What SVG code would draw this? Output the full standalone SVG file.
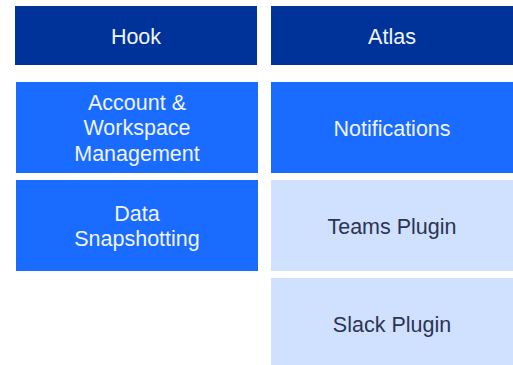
<svg xmlns="http://www.w3.org/2000/svg" width="513" height="365" viewBox="0 0 513 365">
<style>
.dark{fill:#003399}
.mid{fill:#1a6bff}
.light{fill:#d0e0ff}
text{font-family:"Liberation Sans",Arial,sans-serif;font-size:21.5px;text-anchor:middle}
.w{fill:#f0f4ff}
.k{fill:#2b3550}
</style>
<rect width="513" height="365" fill="#ffffff"/>
<g id="hook"><rect class="dark" x="15" y="6" width="242" height="59"/><text class="w" x="136" y="44">Hook</text></g>
<g id="atlas"><rect class="dark" x="271" y="6" width="242" height="59"/><text class="w" x="392" y="44">Atlas</text></g>
<g id="account"><rect class="mid" x="16" y="82" width="242" height="91"/><text class="w" x="137" y="110">Account &amp;</text><text class="w" x="137" y="135">Workspace</text><text class="w" x="137" y="161">Management</text></g>
<g id="notifications"><rect class="mid" x="271" y="82" width="242" height="91"/><text class="w" x="392" y="136">Notifications</text></g>
<g id="data"><rect class="mid" x="16" y="180" width="242" height="91"/><text class="w" x="137" y="221">Data</text><text class="w" x="137" y="246">Snapshotting</text></g>
<g id="teams"><rect class="light" x="271" y="180" width="242" height="91"/><text class="k" x="392" y="234">Teams Plugin</text></g>
<g id="slack"><rect class="light" x="271" y="278" width="242" height="87"/><text class="k" x="392" y="332">Slack Plugin</text></g>
<g id="connectors"/>
</svg>
